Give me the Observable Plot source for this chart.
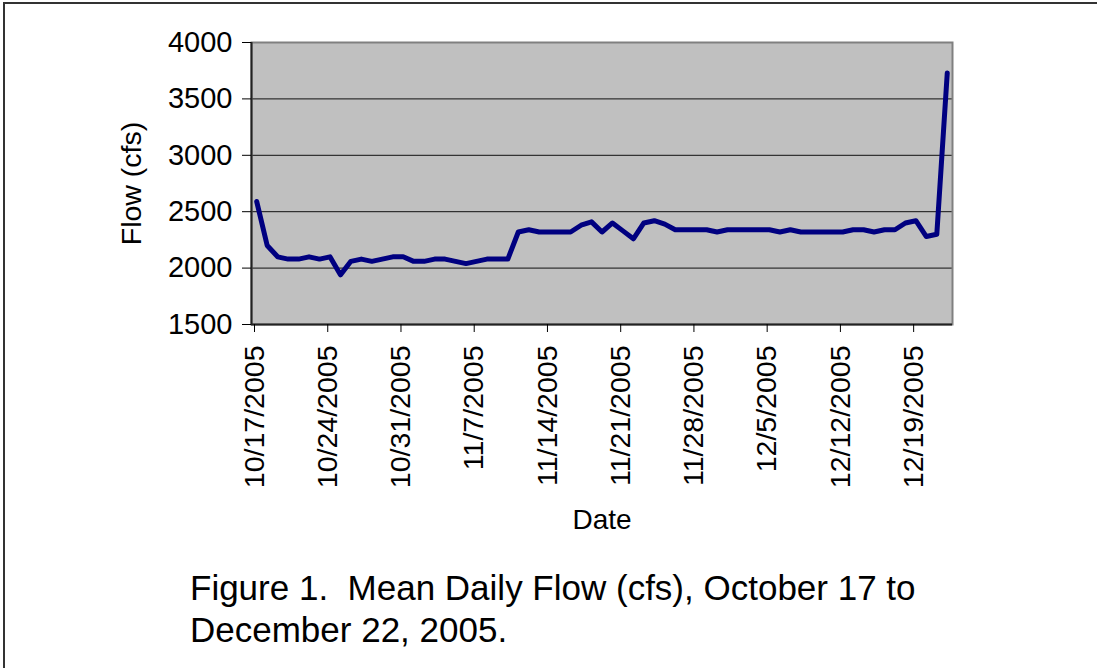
<!DOCTYPE html>
<html><head><meta charset="utf-8">
<script src="https://cdn.jsdelivr.net/npm/d3@7"></script>
<script src="https://cdn.jsdelivr.net/npm/@observablehq/plot@0.6"></script>
<style>
body{margin:0;background:#fff;font-family:"Liberation Sans",Arial,sans-serif;}
#wrap{position:relative;width:1097px;height:668px;overflow:hidden;background:#fff;}
#frame{position:absolute;left:3px;top:2px;right:-10px;bottom:-10px;border-left:2px solid #333;border-top:2px solid #333;}
#chart{position:absolute;left:0;top:0;}
#caption{position:absolute;left:190px;top:567px;font-size:35px;line-height:42px;color:#000;white-space:pre;}
</style></head><body>
<div id="wrap"><div id="frame"></div><div id="chart"></div><div id="caption">Figure 1.  Mean Daily Flow (cfs), October 17 to
December 22, 2005.</div></div>
<script>
const dates = [
  "2005-10-17","2005-10-18","2005-10-19","2005-10-20","2005-10-21","2005-10-22","2005-10-23",
  "2005-10-24","2005-10-25","2005-10-26","2005-10-27","2005-10-28","2005-10-29","2005-10-30",
  "2005-10-31","2005-11-01","2005-11-02","2005-11-03","2005-11-04","2005-11-05","2005-11-06",
  "2005-11-07","2005-11-08","2005-11-09","2005-11-10","2005-11-11","2005-11-12","2005-11-13",
  "2005-11-14","2005-11-15","2005-11-16","2005-11-17","2005-11-18","2005-11-19","2005-11-20",
  "2005-11-21","2005-11-22","2005-11-23","2005-11-24","2005-11-25","2005-11-26","2005-11-27",
  "2005-11-28","2005-11-29","2005-11-30","2005-12-01","2005-12-02","2005-12-03","2005-12-04",
  "2005-12-05","2005-12-06","2005-12-07","2005-12-08","2005-12-09","2005-12-10","2005-12-11",
  "2005-12-12","2005-12-13","2005-12-14","2005-12-15","2005-12-16","2005-12-17","2005-12-18",
  "2005-12-19","2005-12-20","2005-12-21","2005-12-22"
];
const flow = [
  2590, 2200, 2100, 2080, 2080, 2100, 2080,
  2100, 1940, 2060, 2080, 2060, 2080, 2100,
  2100, 2060, 2060, 2080, 2080, 2060, 2040,
  2060, 2080, 2080, 2080, 2320, 2340, 2320,
  2320, 2320, 2320, 2380, 2410, 2320, 2400,
  2330, 2260, 2400, 2420, 2390, 2340, 2340,
  2340, 2340, 2320, 2340, 2340, 2340, 2340,
  2340, 2320, 2340, 2320, 2320, 2320, 2320,
  2320, 2340, 2340, 2320, 2340, 2340, 2400,
  2420, 2280, 2300, 3730
];
const yTicks = [1500, 2000, 2500, 3000, 3500, 4000];
const xTicks = ["2005-10-17","2005-10-24","2005-10-31","2005-11-07","2005-11-14",
                "2005-11-21","2005-11-28","2005-12-05","2005-12-12","2005-12-19"];
const xDomain = ["2005-10-17", "2005-12-23"];
const yLabel = "Flow (cfs)";
const xLabel = "Date";

const HALF_DAY = 12 * 3600 * 1000;
const table = dates.map((d, i) => ({date: new Date(Date.parse(d) + HALF_DAY), flow: flow[i]}));
const fmt = d => `${d.getUTCMonth() + 1}/${d.getUTCDate()}/${d.getUTCFullYear()}`;

const chart = Plot.plot({
  width: 1097, height: 555,
  marginLeft: 251, marginRight: 145, marginTop: 42, marginBottom: 231,
  style: {fontFamily: "'Liberation Sans', Arial, sans-serif", fontSize: "28px", color: "#000", background: "transparent", overflow: "visible"},
  x: {type: "utc", domain: xDomain.map(d => new Date(d))},
  y: {domain: [yTicks[0], yTicks[yTicks.length - 1]]},
  marks: [
    Plot.frame({fill: "#c0c0c0"}),
    Plot.ruleY(yTicks.slice(1, -1), {stroke: "#111", strokeWidth: 1}),
    Plot.frame({stroke: "#808080", strokeWidth: 2}),
    Plot.ruleX([new Date(xDomain[0])], {stroke: "#222", strokeWidth: 2}),
    Plot.ruleY([yTicks[0]], {stroke: "#222", strokeWidth: 2}),
    Plot.axisY({ticks: yTicks, tickSize: 9, tickPadding: 10, tickFormat: d => String(d), fontSize: 29, label: null}),
    Plot.axisX({ticks: xTicks.map(d => new Date(d)), tickFormat: fmt, tickRotate: -90, tickSize: 8, tickPadding: 13, dx: 3, fontSize: 28.5, label: null}),
    Plot.line(table, {x: "date", y: "flow", stroke: "#000080", strokeWidth: 5, strokeLinejoin: "round", strokeLinecap: "round"}),
    Plot.text([yLabel], {text: d => d, frameAnchor: "left", dx: -120, rotate: -90, textAnchor: "middle", lineAnchor: "middle", fontSize: 28.5}),
    Plot.text([xLabel], {text: d => d, frameAnchor: "bottom", dy: 196, textAnchor: "middle", lineAnchor: "middle", fontSize: 28})
  ]
});
document.getElementById("chart").appendChild(chart);
</script>
</body></html>
